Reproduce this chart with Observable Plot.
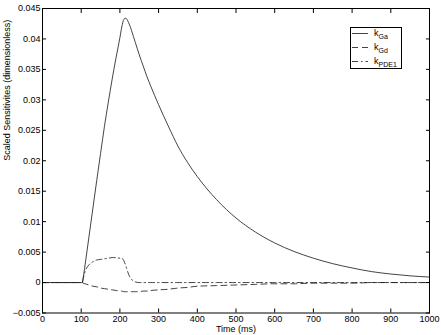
<!DOCTYPE html>
<html><head><meta charset="utf-8">
<script src="https://cdn.jsdelivr.net/npm/d3@7"></script>
<script src="https://cdn.jsdelivr.net/npm/@observablehq/plot@0.6"></script>
<style>
body{margin:0;background:#fff}
#chart{width:441px;height:335px}
</style>
</head><body><div id="chart"></div>
<script>
const time  = [0,100,103,105,110,120,130,140,150,160,170,180,190,200,205,210,215,220,225,230,235,240,250,260,270,280,300,325,350,375,400,450,500,550,600,650,700,750,800,850,900,950,1000];
const kGa   = [0,0,0,0.0007,0.0029,0.0075,0.0121,0.0167,0.0212,0.0256,0.0296,0.0334,0.0369,0.0402,0.0420,0.0432,0.0434,0.0430,0.0423,0.0414,0.0404,0.0394,0.0374,0.0356,0.0338,0.0322,0.0292,0.0257,0.0224,0.0197,0.0174,0.0136,0.0106,0.0083,0.0065,0.0051,0.0040,0.0031,0.0024,0.0018,0.0014,0.0011,0.0009];
const kGd   = [0,0,0,-0.0001,-0.0002,-0.0004,-0.0006,-0.0007,-0.0009,-0.0010,-0.0011,-0.0012,-0.0013,-0.0014,-0.0014,-0.0015,-0.0015,-0.0015,-0.0015,-0.0015,-0.0015,-0.0015,-0.0015,-0.0014,-0.0014,-0.0013,-0.0012,-0.0011,-0.0009,-0.0008,-0.0006,-0.0005,-0.0004,-0.0003,-0.0002,-0.0002,-0.0001,-0.0001,-0.0001,0,0,0,0];
const kPDE1 = [0,0,0,0.0006,0.0018,0.0029,0.0034,0.0037,0.0038,0.0039,0.0040,0.0041,0.0041,0.0040,0.0040,0.0036,0.0028,0.0018,0.0010,0.0005,0.0003,0.0001,0,0,0,0,0,0,0,0,0,0,0,0,0,0,0,0,0,0,0,0,0];

const seriesKeys  = ["Ga","Gd","PDE1"];
const seriesDash  = {Ga: null, Gd: "6,4", PDE1: "6,3,1.5,3"};
const xTicks = [0,100,200,300,400,500,600,700,800,900,1000];
const xTickLabels = ["0","100","200","300","400","500","600","700","800","900","1000"];
const yTicks = [-0.005,0,0.005,0.01,0.015,0.02,0.025,0.03,0.035,0.04,0.045];
const yTickLabels = ["\u22120.005","0","0.005","0.01","0.015","0.02","0.025","0.03","0.035","0.04","0.045"];
const xLabel = "Time (ms)";
const yLabel = "Scaled Sensitivites (dimensionless)";

const seriesValues = {Ga: kGa, Gd: kGd, PDE1: kPDE1};
const table = k => time.map((t, i) => ({t, v: seriesValues[k][i]}));

const font = "'Liberation Sans', Arial, Helvetica, sans-serif";
const lineColor = "#222";

const chart = Plot.plot({
  width: 441, height: 335,
  marginLeft: 42, marginRight: 12, marginTop: 8, marginBottom: 22.5,
  style: {fontFamily: font, fontSize: "9px", color: "#000", background: "#fff"},
  x: {domain: [0, 1000]},
  y: {domain: [-0.005, 0.045]},
  marks: [
    ...seriesKeys.map(k => Plot.line(table(k), {x: "t", y: "v", stroke: lineColor, strokeWidth: 0.85, strokeDasharray: seriesDash[k], curve: "monotone-x"})),
    Plot.frame({stroke: "#000", strokeWidth: 1}),
    Plot.axisX(xTicks, {anchor: "bottom", tickSize: -4, tickPadding: 7, tickFormat: d => xTickLabels[xTicks.indexOf(d)], label: null}),
    Plot.axisX(xTicks, {anchor: "top", tickSize: -4, tickFormat: () => "", label: null}),
    Plot.axisY(yTicks, {anchor: "left", tickSize: -4, tickPadding: 6, tickFormat: d => yTickLabels[yTicks.indexOf(d)], label: null}),
    Plot.axisY(yTicks, {anchor: "right", tickSize: -4, tickFormat: () => "", label: null}),
    Plot.text([xLabel], {frameAnchor: "bottom", dy: 16, lineAnchor: "middle", text: d => d}),
    Plot.text([yLabel], {frameAnchor: "left", rotate: -90, dx: -35, text: d => d})
  ]
});
document.getElementById("chart").appendChild(chart);

// legend
const svg = d3.select(chart);
const lg = svg.append("g").attr("font-family", font).attr("text-anchor", "start");
lg.append("rect").attr("x", 350.5).attr("y", 27.5).attr("width", 51).attr("height", 41)
  .attr("fill", "#fff").attr("stroke", "#000").attr("stroke-width", 1);
seriesKeys.forEach((k, i) => {
  const y = 33.5 + i * 14;
  lg.append("line").attr("x1", 352).attr("x2", 368).attr("y1", y).attr("y2", y)
    .attr("stroke", lineColor).attr("stroke-width", 0.85).attr("stroke-dasharray", seriesDash[k]);
  const t = lg.append("text").attr("x", 374).attr("y", y + 2.5).attr("font-size", 9).attr("text-anchor", "start").attr("fill", "#000");
  t.append("tspan").text("k");
  t.append("tspan").attr("dy", 3).attr("font-size", 7).text(k);
});
</script>
</body></html>
